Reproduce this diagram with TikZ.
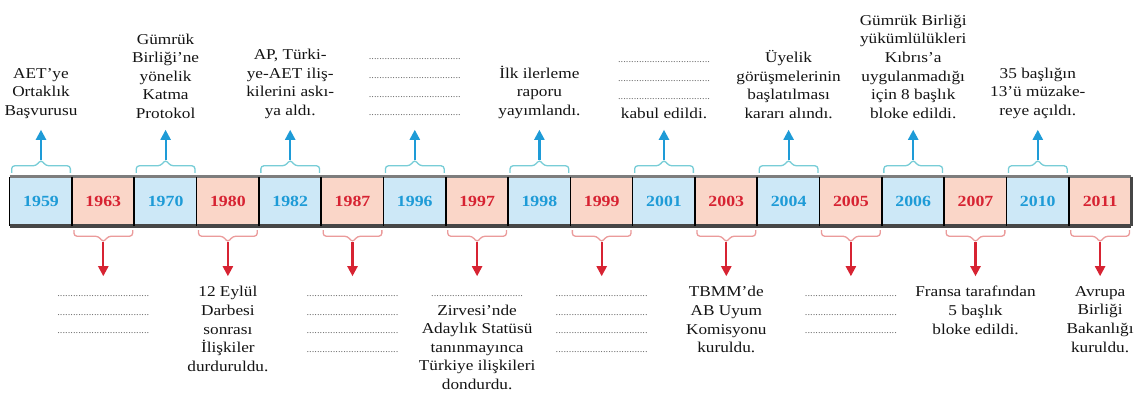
\documentclass[tikz,border=0pt]{standalone}
\usepackage{fontspec}
\setmainfont{Liberation Serif}[FakeStretch=1.15]
\usetikzlibrary{arrows.meta,calc}

\definecolor{mavi}{RGB}{30,155,215}
\definecolor{maviacik}{RGB}{205,232,247}
\definecolor{kirmizi}{RGB}{215,35,50}
\definecolor{pembe}{RGB}{250,214,200}
\definecolor{mavicizgi}{RGB}{120,205,215}
\definecolor{pembecizgi}{RGB}{235,155,155}
\definecolor{kenargri}{RGB}{125,125,125}
\definecolor{koyugri}{RGB}{70,70,70}
\definecolor{noktagri}{RGB}{90,90,90}

% boş bırakılan satır
\newcommand{\noktali}{\rule[-3pt]{0pt}{13pt}{\color{noktagri}\fontsize{9}{9}\selectfont\hbox to 92pt{\xleaders\hbox to 2.6pt{\hss.\hss}\hfill}}}

\begin{document}
\begin{tikzpicture}[x=1pt,y=-1pt,
  yilkutu/.style={minimum width=62.3pt,minimum height=49pt,inner sep=0pt,font=\fontsize{15.5}{15.5}\selectfont\bfseries},
  mavikutu/.style={yilkutu,fill=maviacik,text=mavi},
  pembekutu/.style={yilkutu,fill=pembe,text=kirmizi},
  etiket/.style={align=center,inner sep=0pt,text=black!92,font=\fontsize{15}{18.6}\selectfont},
  maviok/.style={draw=mavi,line width=2.2pt,-{Triangle[width=10pt,length=10pt]}},
  kirmiziok/.style={draw=kirmizi,line width=2.2pt,-{Triangle[width=10pt,length=10pt]}},
  parantez/.style={line width=1.3pt,rounded corners=3pt}]
  \useasboundingbox[fill=white](0,0)rectangle(1136,392);
  % yıl kutuları
  \foreach \yil[count=\i from 0] in {1959,1963,1970,1980,1982,1987,1996,1997,1998,1999,2001,2003,2004,2005,2006,2007,2010,2011}{
    \ifodd\i\relax\def\stil{pembekutu}\else\def\stil{mavikutu}\fi
    \node[\stil](k\yil)at({41+62.3*\i},201.5){\yil};
  }
  % şeridin kenarları
  \draw[line width=3pt,draw=kenargri](k1959.north west)--(k2011.north east);
  \draw[line width=4pt,draw=koyugri](k1959.south west)--(k2011.south east);
  \foreach \yil in {1959,1963,1970,1980,1982,1987,1996,1997,1998,1999,2001,2003,2004,2005,2006,2007,2010,2011}
    \draw[line width=1.6pt](k\yil.north west)--(k\yil.south west);
  \draw[line width=2.5pt,draw=koyugri](k2011.north east)--(k2011.south east);
  % üstteki olaylar
  \foreach \yil/\metin in {1959/{AET’ye\\Ortaklık\\Başvurusu},
      1970/{Gümrük\\Birliği’ne\\yönelik\\Katma\\Protokol},
      1982/{AP, Türki-\\ye-AET iliş-\\kilerini askı-\\ya aldı.},
      1996/{\noktali\\\noktali\\\noktali\\\noktali},
      1998/{İlk ilerleme\\raporu\\yayımlandı.},
      2001/{\noktali\\\noktali\\\noktali\\kabul edildi.},
      2004/{Üyelik\\görüşmelerinin\\başlatılması\\kararı alındı.},
      2006/{Gümrük Birliği\\yükümlülükleri\\Kıbrıs’a\\uygulanmadığı\\için 8 başlık\\bloke edildi.},
      2010/{35 başlığın\\13’ü müzake-\\reye açıldı.}}{
    \node[etiket,anchor=south](u\yil)at($(k\yil.north)+(0,-58)$){\metin};
    \draw[parantez,draw=mavicizgi]($(k\yil.north west)+(2,-4)$)|-($(k\yil.north)+(-5,-11)$)--($(k\yil.north)+(0,-17)$)coordinate(tepe\yil)--($(k\yil.north)+(5,-11)$)-|($(k\yil.north east)+(-2,-4)$);
    \draw[maviok,shorten >=11pt](tepe\yil)--(u\yil);
  }
  % alttaki olaylar
  \foreach \yil/\metin in {1963/{\noktali\\\noktali\\\noktali},
      1980/{12 Eylül\\Darbesi\\sonrası\\İlişkiler\\durduruldu.},
      1987/{\noktali\\\noktali\\\noktali\\\noktali},
      1997/{\noktali\\Zirvesi’nde\\Adaylık Statüsü\\tanınmayınca\\Türkiye ilişkileri\\dondurdu.},
      1999/{\noktali\\\noktali\\\noktali\\\noktali},
      2003/{TBMM’de\\AB Uyum\\Komisyonu\\kuruldu.},
      2005/{\noktali\\\noktali\\\noktali},
      2007/{Fransa tarafından\\5 başlık\\bloke edildi.},
      2011/{Avrupa\\Birliği\\Bakanlığı\\kuruldu.}}{
    \node[etiket,anchor=north](a\yil)at($(k\yil.south)+(0,60)$){\metin};
    \draw[parantez,draw=pembecizgi]($(k\yil.south west)+(2,4)$)|-($(k\yil.south)+(-5,10)$)--($(k\yil.south)+(0,16)$)coordinate(dip\yil)--($(k\yil.south)+(5,10)$)-|($(k\yil.south east)+(-2,4)$);
    \draw[kirmiziok,shorten >=10pt](dip\yil)--(a\yil);
  }
\end{tikzpicture}
\end{document}
